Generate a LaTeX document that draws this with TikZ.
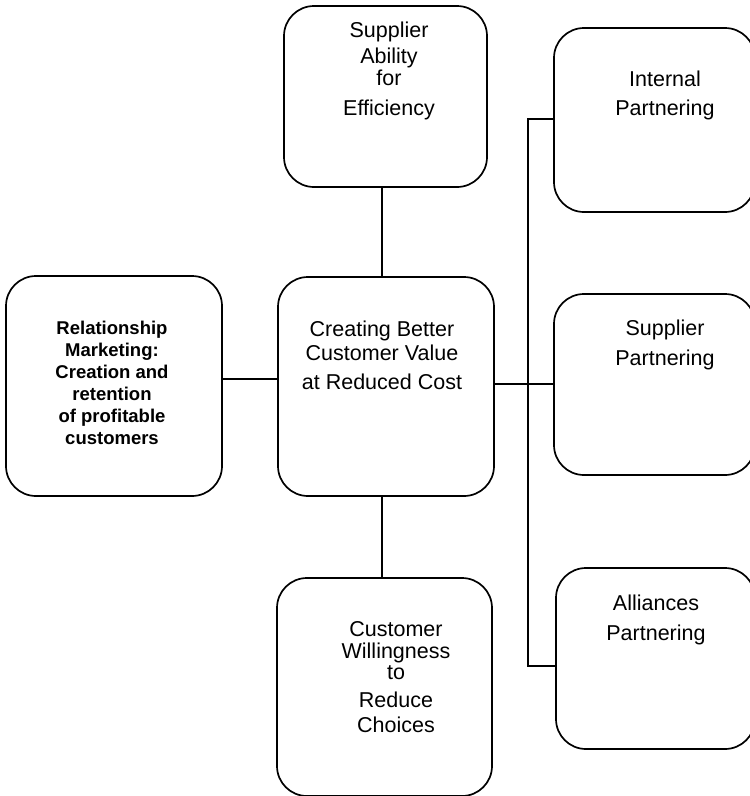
\documentclass[tikz,border=0pt]{standalone}
\usepackage{fontspec}
\setmainfont{Liberation Sans}
\begin{document}
\begin{tikzpicture}[x=1pt,y=-1pt,
  box/.style={draw=black,line width=1.7pt,rounded corners=30pt,rectangle,inner sep=0pt},
  lbl/.style={anchor=north,inner sep=0pt,align=center,font={\fontsize{21.5}{24}\selectfont}},
  boldlbl/.style={anchor=north,inner sep=0pt,align=center,font={\bfseries\fontsize{18.5}{22}\selectfont}},
  conn/.style={draw=black,line width=1.7pt}]
\useasboundingbox (0,0) rectangle (750,796);
% boxes
\node[box,minimum width=203pt,minimum height=181pt] (top) at (385.5,96.5) {};
\node[box,minimum width=216pt,minimum height=219pt] (center) at (386,386.5) {};
\node[box,minimum width=216pt,minimum height=220pt] (left) at (114,386) {};
\node[box,minimum width=201pt,minimum height=184pt] (internal) at (654.5,120) {};
\node[box,minimum width=201pt,minimum height=181pt] (suppart) at (654.5,384.5) {};
\node[box,minimum width=199pt,minimum height=181pt] (alliances) at (655.5,658.5) {};
\node[box,minimum width=215pt,minimum height=218pt] (bottom) at (384.5,687) {};
% labels
\node[lbl] (toplbl) at (389,21.3) {Supplier\\[2pt]Ability\\[-2pt]for\\[6pt]Efficiency};
\node[lbl] (centerlbl) at (382,320.3) {Creating Better\\Customer Value\\[5pt]at Reduced Cost};
\node[boldlbl] (leftlbl) at (112,320.5) {Relationship\\Marketing:\\Creation and\\retention\\of profitable\\customers};
\node[lbl,font={\fontsize{21.5}{29}\selectfont}] (internallbl) at (665,70.3) {Internal\\Partnering};
\node[lbl,font={\fontsize{21.5}{30}\selectfont}] (supplbl) at (665,319.3) {Supplier\\Partnering};
\node[lbl,font={\fontsize{21.5}{30}\selectfont}] (alllbl) at (656,594.3) {Alliances\\Partnering};
\node[lbl] (bottomlbl) at (396,621.3) {Customer\\[-2pt]Willingness\\[-3pt]to\\[4pt]Reduce\\[1pt]Choices};
% connector helper coordinates
\coordinate (vx) at (382,0);
\coordinate (ly) at (0,379);
\coordinate (ry) at (0,384);
\coordinate (bt) at (528,119);
\coordinate (bb) at (528,666);
% connectors
\draw[conn] (top.south -| vx) -- (center.north -| vx);
\draw[conn] (center.south -| vx) -- (bottom.north -| vx);
\draw[conn] (left.east |- ly) -- (center.west |- ly);
\draw[conn] (center.east |- ry) -- (suppart.west |- ry);
\draw[conn] (internal.west |- bt) -- (bt) -- (bb) -- (alliances.west |- bb);
\end{tikzpicture}
\end{document}
